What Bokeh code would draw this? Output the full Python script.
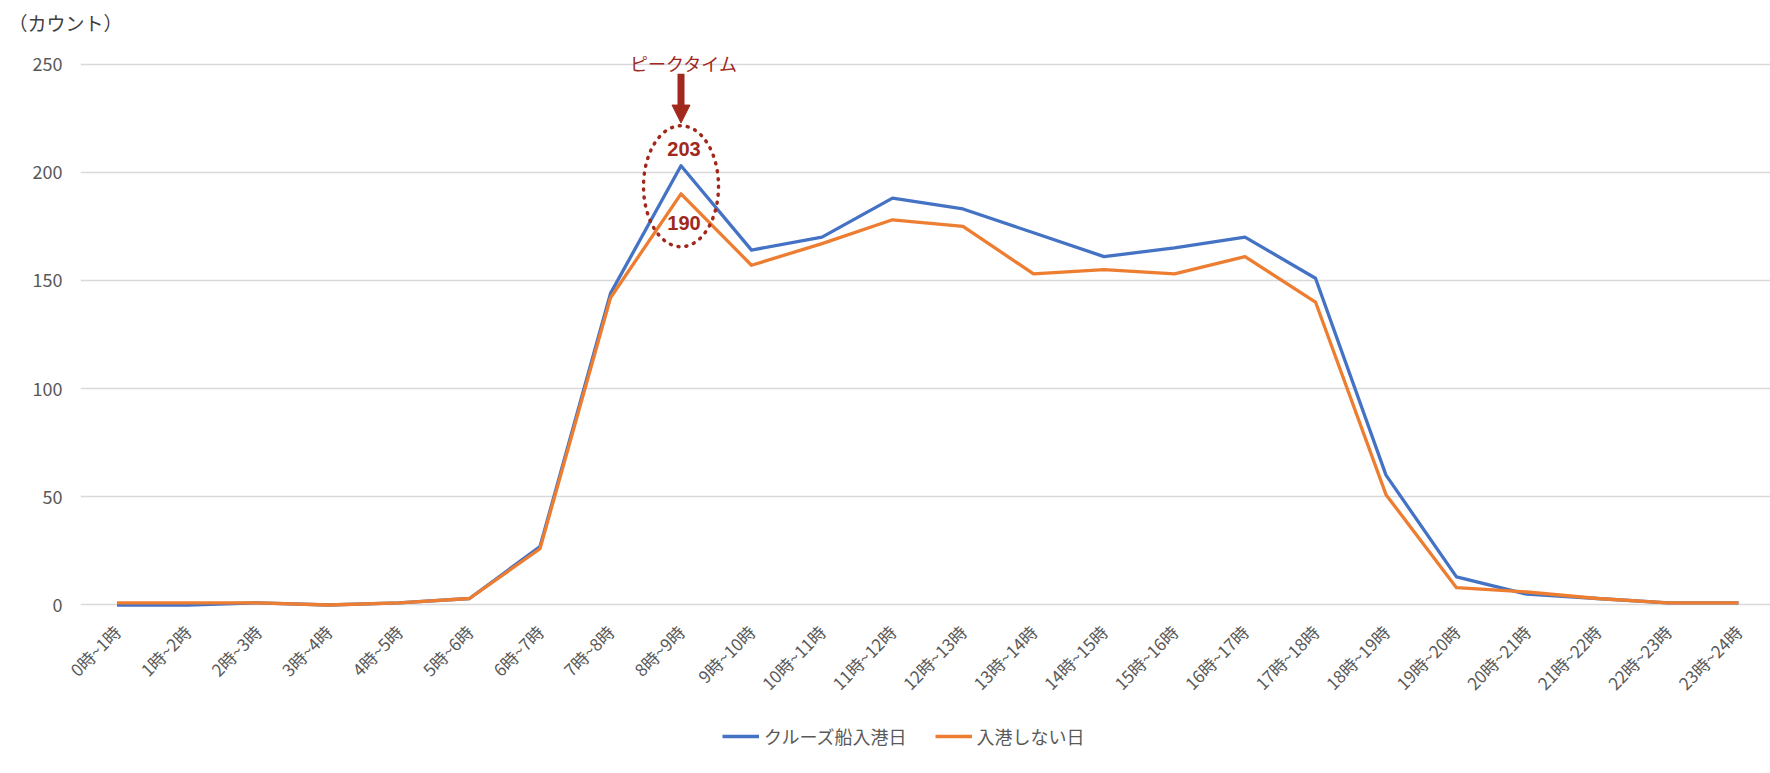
import math
from bokeh.plotting import figure
from bokeh.layouts import column
from bokeh.models import (Range1d, FixedTicker, Legend, LegendItem, Arrow,
                          NormalHead, Title)
from bokeh.core.properties import value
from bokeh.embed import file_html
from bokeh.resources import INLINE

# ---------------- data ----------------
hours = ["0時~1時", "1時~2時", "2時~3時", "3時~4時", "4時~5時", "5時~6時",
         "6時~7時", "7時~8時", "8時~9時", "9時~10時", "10時~11時", "11時~12時",
         "12時~13時", "13時~14時", "14時~15時", "15時~16時", "16時~17時",
         "17時~18時", "18時~19時", "19時~20時", "20時~21時", "21時~22時",
         "22時~23時", "23時~24時"]
cruise = [0, 0, 1, 0, 1, 3, 27, 144, 203, 164, 170, 188, 183, 172, 161, 165,
          170, 151, 60, 13, 5, 3, 1, 1]
normal = [1, 1, 1, 0, 1, 3, 26, 142, 190, 157, 167, 178, 175, 153, 155, 153,
          161, 140, 51, 8, 6, 3, 1, 1]
y_ticks = [0, 50, 100, 150, 200, 250]
series_names = ["クルーズ船入港日", "入港しない日"]
peak_label = "ピークタイム"
unit_label = "（カウント）"

# ---------------- style ----------------
FONT = "Noto Sans CJK JP"
BLUE = "#4472C4"
ORANGE = "#ED7D31"
ANN = "#A0281C"
GRAY_TXT = "#595959"

x = list(range(len(hours)))
pk = cruise.index(max(cruise))

p = figure(frame_width=1690, frame_height=568,
           x_range=Range1d(-0.518, 23.454), y_range=Range1d(-1.62, 260.86),
           output_backend="svg", toolbar_location=None,
           min_border_left=80, min_border_right=0,
           min_border_top=40, min_border_bottom=104)
p.outline_line_color = None
p.background_fill_color = "white"
p.border_fill_color = "white"

p.title = Title(text=unit_label, align="left", offset=-72, standoff=10,
                text_font_size="19px", text_font_style="normal",
                text_color="#404040", text_font=FONT)

# axes
p.xaxis.ticker = FixedTicker(ticks=x)
p.xaxis.major_label_overrides = {i: hours[i] for i in x}
p.xaxis.major_label_orientation = math.pi / 4
p.xaxis.axis_line_color = None
p.xaxis.major_tick_line_color = None
p.xaxis.minor_tick_line_color = None
p.xaxis.major_tick_out = 0
p.xaxis.major_tick_in = 0
p.xaxis.major_label_standoff = 20
p.xaxis.major_label_text_font = FONT
p.xaxis.major_label_text_font_size = "17px"
p.xaxis.major_label_text_color = GRAY_TXT

p.yaxis.ticker = FixedTicker(ticks=y_ticks)
p.yaxis.axis_line_color = None
p.yaxis.major_tick_line_color = None
p.yaxis.minor_tick_line_color = None
p.yaxis.major_tick_out = 0
p.yaxis.major_tick_in = 0
p.yaxis.major_label_standoff = 18
p.yaxis.major_label_text_font = FONT
p.yaxis.major_label_text_font_size = "18px"
p.yaxis.major_label_text_color = GRAY_TXT

p.xgrid.visible = False
p.ygrid.ticker = FixedTicker(ticks=y_ticks)
p.ygrid.grid_line_color = "#d9d9d9"
p.ygrid.grid_line_width = 1.3

# lines
r1 = p.line(x, cruise, line_color=BLUE, line_width=3.3, line_join="round")
r2 = p.line(x, normal, line_color=ORANGE, line_width=3.3, line_join="round")

# peak annotation
mid = (cruise[pk] + normal[pk]) / 2.0 - 3.0
p.ellipse(x=[pk], y=[mid], width=75, height=121,
          width_units="screen", height_units="screen",
          fill_color=None, line_color=ANN, line_width=3.5,
          line_dash="1 7", line_cap="round")
p.add_layout(Arrow(end=NormalHead(size=18, fill_color=ANN, line_color=ANN),
                   x_start=pk, y_start=cruise[pk] + 42.5,
                   x_end=pk, y_end=cruise[pk] + 19.7,
                   line_color=ANN, line_width=7))
p.text(x=[pk], y=[cruise[pk]], text=[peak_label], y_offset=-103,
       x_offset=3, text_align="center", text_baseline="middle",
       text_font=value(FONT), text_font_size="18px", text_color=ANN)
p.text(x=[pk], y=[cruise[pk]], text=[str(cruise[pk])], y_offset=-17,
       x_offset=3, text_align="center", text_baseline="middle",
       text_font=value("Liberation Sans"), text_font_size="20px",
       text_font_style="bold", text_color=ANN)
p.text(x=[pk], y=[normal[pk]], text=[str(normal[pk])], y_offset=29,
       x_offset=3, text_align="center", text_baseline="middle",
       text_font=value("Liberation Sans"), text_font_size="20px",
       text_font_style="bold", text_color=ANN)

# legend strip below the chart (proxy renderers lie outside its view)
p2 = figure(width=1770, height=61, x_range=Range1d(0, 1),
            y_range=Range1d(1000, 1001), output_backend="svg",
            toolbar_location=None, min_border=0)
p2.axis.visible = False
p2.grid.visible = False
p2.outline_line_color = None
l1 = p2.line(x, cruise, line_color=BLUE, line_width=3.3)
l2 = p2.line(x, normal, line_color=ORANGE, line_width=3.3)
legend = Legend(items=[LegendItem(label=series_names[0], renderers=[l1]),
                       LegendItem(label=series_names[1], renderers=[l2])],
                orientation="horizontal", location=(642, 24),
                border_line_color=None, background_fill_alpha=0,
                label_text_font=FONT, label_text_font_size="18px",
                label_text_color=GRAY_TXT, glyph_width=37, label_standoff=5,
                spacing=28, padding=0, margin=0)
p2.add_layout(legend, "center")

layout = column(p, p2, spacing=0)

with open("out.html", "w", encoding="utf-8") as f:
    f.write(file_html(layout, INLINE))
